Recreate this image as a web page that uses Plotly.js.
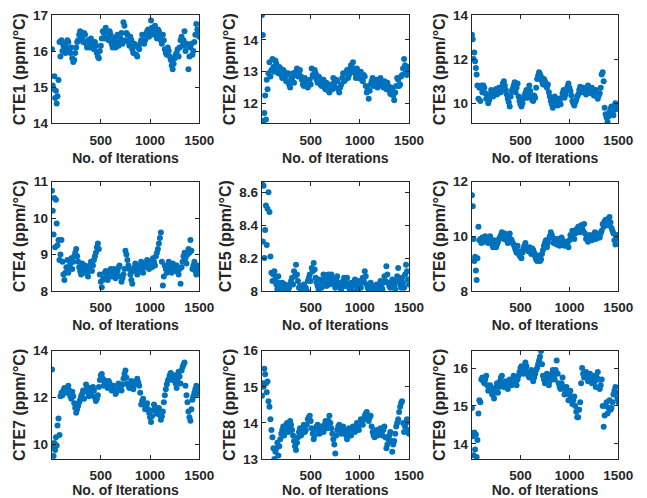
<!DOCTYPE html>
<html>
<head>
<meta charset="utf-8">
<script src="https://cdn.plot.ly/plotly-3.0.1.min.js"></script>
<style>
  html, body { margin: 0; padding: 0; background: #ffffff; }
  #chart { width: 647px; height: 498px; }
</style>
</head>
<body>
<div id="chart"></div>
<script>
// Sampled optimisation iterations shared by every CTE trace
const iterations = [4,12,20,28,36,44,52,60,70,80,90,100,
  110,120,130,140,150,160,170,180,190,200,
  210,220,230,240,250,260,270,280,290,300,
  310,320,330,340,350,360,370,380,390,400,
  410,420,430,440,450,460,470,480,490,500,
  510,520,530,540,550,560,570,580,590,600,
  610,620,630,640,650,660,670,680,690,700,
  710,720,730,740,750,760,770,780,790,800,
  810,820,830,840,850,860,870,880,890,900,
  910,920,930,940,950,960,970,980,990,1000,
  1010,1020,1030,1040,1050,1060,1070,1080,1090,1100,
  1110,1120,1130,1140,1150,1160,1170,1180,1190,1200,
  1210,1220,1230,1240,1250,1260,1270,1280,1290,1300,
  1310,1320,1330,1340,1350,1360,1370,1380,1390,1400,
  1410,1420,1430,1440,1450,1460,1470,1480,1490,1500];

// CTE values (ppm/°C) at each sampled iteration
const cte1 = [16.05,15.05,14.95,15.3,14.7,14.9,14.55,14.75,15.2,16.25,15.85,16.3,
  16.0,16.15,16.2,15.95,16.1,16.3,16.25,16.05,15.95,16.1,
  15.8,15.7,15.75,15.95,16.1,16.25,16.3,16.45,16.55,16.4,
  16.35,16.25,16.5,16.45,16.2,16.1,16.3,16.2,16.1,16.35,
  16.25,16.1,16.05,16.25,16.15,15.95,15.85,15.8,16.0,16.15,
  16.35,16.55,16.5,16.35,16.65,16.5,16.4,16.3,16.55,16.45,
  16.2,16.1,16.35,16.25,16.1,16.4,16.45,16.15,16.25,16.35,
  16.5,16.2,16.8,16.7,16.3,16.5,16.45,16.25,16.15,16.4,
  16.3,16.05,15.95,16.2,16.15,15.9,15.85,16.1,16.05,16.2,
  16.3,16.45,16.45,16.2,16.3,16.45,16.55,16.6,16.4,16.5,
  16.85,16.65,16.6,16.45,16.7,16.5,16.35,16.6,16.55,16.4,
  16.3,16.2,16.45,16.3,16.05,15.95,15.9,16.1,16.0,15.85,
  15.75,15.6,15.5,15.65,15.8,15.9,15.95,16.05,15.85,16.1,
  16.3,16.4,16.15,16.3,16.55,16.0,16.2,16.15,15.5,15.85,
  16.1,16.2,15.9,16.0,16.25,16.45,16.75,16.6,16.55,16.4];
const cte2 = [14.78,14.15,11.45,11.7,12.25,11.5,12.75,12.45,12.95,13.3,12.85,13.05,
  13.4,13.15,13.0,13.35,13.25,13.05,12.95,13.15,13.1,12.9,
  12.8,13.05,13.0,12.85,12.7,12.9,12.95,12.6,12.5,12.75,
  12.8,12.95,12.65,12.9,13.0,13.1,12.85,12.95,13.05,12.85,
  12.75,12.6,12.55,12.8,12.7,12.55,12.5,12.65,12.75,12.6,
  13.1,12.9,12.85,13.05,12.95,12.75,12.65,12.85,12.8,12.6,
  12.55,12.7,12.75,12.5,12.45,12.65,12.6,12.4,12.35,12.5,
  12.6,12.45,12.8,12.65,12.5,12.75,12.7,12.45,12.35,12.5,
  12.6,12.8,12.95,12.7,12.75,12.95,13.05,12.8,12.9,13.1,
  13.2,13.0,13.3,13.1,12.95,12.8,13.1,12.9,12.8,12.95,
  13.0,12.75,12.7,12.9,12.85,12.55,12.35,12.45,12.15,12.4,
  12.6,12.7,12.8,12.55,12.6,12.7,12.75,12.5,12.55,12.7,
  12.8,12.65,12.6,12.5,12.7,12.55,12.45,12.65,12.55,12.4,
  12.3,12.5,12.45,12.25,12.1,12.35,12.55,12.8,12.75,12.55,
  12.6,12.85,12.9,13.1,13.4,13.2,13.0,12.9,13.15,13.05];
const cte3 = [13.1,12.9,12.0,12.3,11.9,11.6,11.3,10.8,10.2,10.7,10.1,10.8,
  10.5,10.8,10.7,10.45,10.2,10.4,10.0,10.15,10.35,10.6,
  10.55,10.3,10.4,10.55,10.65,10.4,10.45,10.7,10.6,10.5,
  10.75,10.9,11.0,10.8,10.6,10.4,10.2,10.05,9.85,10.3,
  10.55,10.65,10.8,10.95,10.5,10.7,10.9,10.3,10.1,9.95,
  9.85,10.0,10.2,10.35,10.45,10.6,10.25,10.4,10.8,10.55,
  10.3,10.15,10.1,10.35,10.25,10.7,11.1,11.25,11.4,11.3,
  11.2,11.0,10.85,11.1,11.0,10.8,10.7,10.85,10.5,10.3,
  10.1,9.95,9.8,10.1,10.3,10.15,10.05,9.9,10.2,10.05,
  9.95,10.25,10.45,10.6,10.25,10.4,10.6,10.75,10.9,10.7,
  10.55,10.35,10.1,10.0,9.9,10.05,10.15,10.3,10.4,10.6,
  10.75,10.6,10.5,10.7,10.65,10.5,10.4,10.6,10.8,10.65,
  10.55,10.45,10.7,10.55,10.35,10.5,10.6,10.3,10.2,10.35,
  10.45,10.7,11.3,11.4,11.0,9.8,9.5,9.35,9.15,9.4,
  9.6,9.75,9.85,9.6,9.45,9.7,10.0,9.9,9.75,9.9];
const cte4 = [10.75,10.2,9.55,10.55,9.2,10.5,9.85,9.25,9.4,8.85,9.0,9.4,
  8.8,8.45,8.3,8.5,8.65,8.85,8.5,8.65,8.75,8.9,
  8.6,8.8,8.95,9.05,9.15,8.95,8.8,8.65,8.55,8.45,
  8.75,8.6,8.5,8.7,8.65,8.5,8.4,8.55,8.7,8.8,
  8.55,8.7,8.85,8.95,9.05,9.2,9.3,9.15,8.45,8.25,
  8.1,8.3,8.35,8.5,8.55,8.4,8.3,8.45,8.5,8.6,
  8.4,8.55,8.6,8.45,8.35,8.5,8.55,8.65,8.7,8.4,
  8.25,8.35,8.45,8.6,9.1,9.0,8.85,8.7,8.6,8.45,
  8.3,8.2,8.55,8.65,8.75,8.6,8.45,8.5,8.6,8.7,
  8.8,8.6,8.5,8.65,8.7,8.75,8.85,8.7,8.6,8.8,
  8.75,8.65,8.9,8.8,8.7,8.95,9.05,9.15,9.3,9.45,
  9.6,8.8,8.15,8.4,8.7,8.6,8.5,8.65,8.8,8.7,
  8.6,8.5,8.75,8.65,8.55,8.7,8.7,8.55,8.45,8.6,
  8.2,8.65,8.8,8.95,9.05,8.9,8.75,9.0,9.15,9.05,
  9.4,9.1,8.6,8.7,8.8,8.55,8.45,8.7,8.6,8.5];
const cte5 = [8.65,8.3,8.64,8.2,8.37,8.52,8.28,8.5,8.6,8.48,8.21,8.11,
  8.06,8.1,8.12,8.07,8.04,8.01,8.09,8.05,8.02,8.0,
  8.05,8.02,8.01,8.04,8.03,8.01,8.0,8.02,8.04,8.06,
  8.08,8.04,8.12,8.09,8.16,8.1,8.06,8.02,8.03,8.01,
  8.0,8.03,8.04,8.01,8.02,8.0,8.06,8.08,8.1,8.06,
  8.14,8.12,8.17,8.13,8.08,8.05,8.03,8.01,8.07,8.04,
  8.02,8.06,8.1,8.07,8.05,8.03,8.08,8.1,8.04,8.07,
  8.1,8.08,8.06,8.04,8.02,8.07,8.09,8.05,8.04,8.02,
  8.01,8.04,8.06,8.08,8.03,8.05,8.08,8.04,8.02,8.01,
  8.05,8.03,8.0,8.04,8.07,8.05,8.03,8.01,8.06,8.04,
  8.02,8.05,8.08,8.06,8.12,8.09,8.04,8.02,8.01,8.03,
  8.05,8.03,8.02,8.01,8.0,8.02,8.04,8.01,8.02,8.03,
  8.06,8.02,8.01,8.05,8.09,8.06,8.15,8.1,8.05,8.03,
  8.02,8.05,8.07,8.04,8.03,8.01,8.06,8.09,8.14,8.07,
  8.04,8.02,8.08,8.05,8.02,8.1,8.16,8.12,8.07,8.04];
const cte6 = [11.5,11.1,9.9,9.1,9.25,8.75,8.4,9.2,10.35,9.85,9.9,9.75,
  9.95,9.85,9.8,10.0,9.9,9.8,9.75,9.9,10.0,9.85,
  9.7,9.6,9.85,9.75,9.6,9.7,9.8,9.9,9.95,10.05,
  10.15,10.05,9.9,10.1,10.05,9.85,9.75,9.95,10.1,9.9,
  9.85,9.75,9.7,9.6,9.5,9.4,9.65,9.45,9.3,9.25,
  9.2,9.4,9.55,9.65,9.75,9.6,9.5,9.45,9.6,9.45,
  9.35,9.55,9.5,9.4,9.25,9.15,9.1,9.3,9.2,9.1,
  9.15,9.35,9.5,9.65,9.75,9.85,9.6,9.75,9.9,10.0,
  10.15,10.05,9.95,9.75,9.8,9.9,9.7,9.8,9.9,9.65,
  9.75,9.95,9.85,9.7,9.65,9.75,9.8,9.7,9.6,9.85,
  10.05,9.95,10.2,10.1,9.9,10.1,10.25,10.15,10.35,10.25,
  10.15,10.4,10.3,10.2,10.45,10.1,9.9,10.0,9.8,9.95,
  10.05,9.9,9.85,10.0,10.0,10.15,9.9,10.05,10.1,9.95,
  9.95,10.1,10.2,10.45,10.35,10.55,10.6,10.5,10.4,10.65,
  10.7,10.5,10.3,10.2,10.1,9.85,9.7,9.95,10.05,9.9];
const cte7 = [13.2,9.9,9.5,10.05,9.75,10.3,9.95,10.8,11.1,10.4,12.05,12.2,
  12.1,12.3,12.4,12.25,12.2,12.35,12.5,12.3,12.05,11.95,
  12.25,12.05,11.75,11.55,11.35,11.5,11.65,11.8,11.9,12.05,
  12.15,12.3,11.95,12.3,12.55,12.35,12.2,12.05,12.4,12.25,
  12.1,12.45,12.3,12.0,11.85,11.95,12.1,12.45,12.75,12.95,
  13.0,12.8,12.5,12.65,12.7,12.55,12.4,12.7,12.6,12.45,
  12.3,12.45,12.5,12.3,12.15,12.25,12.35,12.6,12.55,12.4,
  12.3,12.55,12.8,13.0,13.15,12.85,12.6,12.5,12.4,12.55,
  12.7,12.55,12.35,12.65,12.55,12.7,12.8,12.65,12.5,12.2,
  11.7,11.85,11.95,11.7,11.5,11.65,11.75,11.5,11.35,11.15,
  10.95,11.2,11.45,11.7,11.6,11.45,11.3,11.4,11.55,11.25,
  11.05,11.2,11.4,11.8,12.1,12.35,12.55,12.7,12.8,12.95,
  13.05,12.9,12.75,12.85,12.95,12.6,12.4,12.8,13.1,12.9,
  12.6,13.15,13.3,13.4,13.5,12.5,12.1,11.8,11.4,11.15,
  11.0,11.5,11.9,12.05,12.2,12.35,12.5,12.15,12.25,12.35];
const cte8 = [14.75,15.1,15.0,15.5,15.35,15.1,14.85,15.15,14.6,14.45,14.1,13.8,
  13.6,13.3,13.0,13.2,13.3,13.45,13.1,13.35,13.55,13.7,
  13.8,13.9,13.65,13.8,13.95,14.0,13.75,13.9,14.05,13.95,
  13.8,13.65,13.5,13.35,13.25,13.45,13.6,13.75,13.85,13.65,
  13.7,13.85,13.95,13.75,13.8,13.95,14.1,14.15,14.2,14.05,
  13.85,13.7,13.55,13.65,13.8,13.9,13.95,13.8,13.7,13.85,
  13.9,13.8,13.75,13.95,14.05,13.9,13.85,14.05,14.2,14.0,
  13.85,13.7,13.55,13.4,13.15,13.65,13.8,13.9,13.95,13.8,
  13.7,13.85,13.9,13.8,13.75,13.65,13.55,13.7,13.85,13.75,
  13.65,13.8,13.9,13.85,13.75,13.9,14.0,13.85,13.8,13.95,
  14.1,14.0,13.95,14.1,14.2,14.25,14.3,14.15,14.05,14.15,
  14.2,13.9,13.75,13.65,13.6,13.75,13.8,13.65,13.7,13.8,
  13.85,13.7,13.65,13.8,13.9,13.6,13.3,13.4,13.55,13.65,
  13.75,13.5,13.2,13.4,13.5,13.7,13.9,14.0,14.1,14.3,
  14.45,14.55,14.6,14.0,13.75,13.9,14.0,14.1,13.8,13.7];
const cte9 = [14.95,14.2,13.7,14.3,13.85,14.25,13.65,14.1,14.8,15.15,15.1,15.7,
  15.75,15.65,15.6,15.7,15.8,15.55,15.4,15.5,15.55,15.4,
  15.3,15.45,15.2,15.35,15.5,15.6,15.35,15.5,15.65,15.75,
  15.8,15.6,15.5,15.55,15.65,15.55,15.45,15.6,15.7,15.6,
  15.55,15.7,15.8,15.65,15.6,15.55,15.7,15.8,15.9,16.0,
  16.05,15.95,15.85,16.0,16.15,16.05,15.9,15.8,15.75,15.85,
  15.95,15.8,15.65,15.75,15.85,15.95,16.0,16.1,16.2,16.3,
  16.45,16.1,15.8,15.7,15.6,15.75,15.85,15.7,15.55,15.65,
  15.75,15.85,15.95,15.8,15.7,15.95,16.2,15.85,15.6,15.5,
  15.45,15.6,15.75,15.5,15.3,15.4,15.5,15.35,15.15,15.3,
  15.4,15.2,15.05,15.15,15.25,15.0,14.85,14.7,14.7,14.9,
  15.1,15.6,16.0,15.85,15.75,15.8,15.9,15.75,15.65,15.7,
  15.85,15.7,15.6,15.75,15.8,15.65,15.5,15.75,15.9,15.7,
  15.45,15.55,15.7,15.0,14.45,14.75,15.0,15.1,14.8,14.95,
  15.15,14.9,14.95,15.1,15.3,15.4,15.5,15.35,15.2,15.1];

// Panel titles and tick values
const panelNames = ["CTE1","CTE2","CTE3","CTE4","CTE5","CTE6","CTE7","CTE8","CTE9"];
const xTicks = [500, 1000, 1500];
const yTicks = [
  [14,15,16,17], [12,13,14], [10,12,14],
  [8,9,10,11], [8,8.2,8.4,8.6], [8,10,12],
  [10,12,14], [13,14,15,16], [14,15,16]
];
const seriesList = [cte1, cte2, cte3, cte4, cte5, cte6, cte7, cte8, cte9];

// Axis limits (tight around the data)
const yRanges = [
  [14,17], [11.38,14.78], [9.09,14],
  [8,11], [8,8.665], [8,12],
  [9.37,14], [13,16], [13.6,16.46]
];

// 3x3 grid placement (paper fractions)
const colDomains = [[0.0799,0.308],[0.4045,0.6321],[0.729,0.9557]];
const rowDomains = [[0.7524,0.9699],[0.4157,0.6355],[0.0783,0.2958]];

const INK = "#262626";
const BLUE = "#0072BD";
const FONT = "Liberation Sans, Arial, sans-serif";

const traces = [];
const layout = {
  width: 647, height: 498,
  margin: {l: 0, r: 0, t: 0, b: 0},
  paper_bgcolor: "#ffffff",
  plot_bgcolor: "#ffffff",
  showlegend: false,
  font: {family: FONT, color: INK, size: 13, weight: "bold"}
};

seriesList.forEach((vals, i) => {
  const n = i + 1;
  const sfx = n === 1 ? "" : String(n);
  traces.push({
    type: "scatter",
    mode: "markers",
    x: iterations,
    y: vals,
    xaxis: "x" + sfx,
    yaxis: "y" + sfx,
    marker: {color: BLUE, size: 6, line: {width: 0}},
    hoverinfo: "x+y"
  });
  const common = {
    showline: true, linecolor: INK, linewidth: 1, mirror: "ticks",
    ticks: "inside", ticklen: 4, tickwidth: 1, tickcolor: INK,
    showgrid: false, zeroline: false,
    tickfont: {family: FONT, size: 13.5, color: INK, weight: "bold"}
  };
  layout["xaxis" + sfx] = Object.assign({}, common, {
    domain: colDomains[i % 3],
    anchor: "y" + sfx,
    range: [1, 1500],
    tickvals: xTicks,
    ticklabelstandoff: 4,
    title: {text: "No. of Iterations", font: {family: FONT, size: 14, color: INK, weight: "bold"}, standoff: 6}
  });
  layout["yaxis" + sfx] = Object.assign({}, common, {
    domain: rowDomains[Math.floor(i / 3)],
    anchor: "x" + sfx,
    range: yRanges[i],
    tickvals: yTicks[i],
    title: {text: panelNames[i] + " (ppm/°C)", font: {family: FONT, size: 16, color: INK, weight: "bold"}, standoff: 3}
  });
});

Plotly.newPlot("chart", traces, layout, {staticPlot: true, displayModeBar: false});
</script>
</body>
</html>
